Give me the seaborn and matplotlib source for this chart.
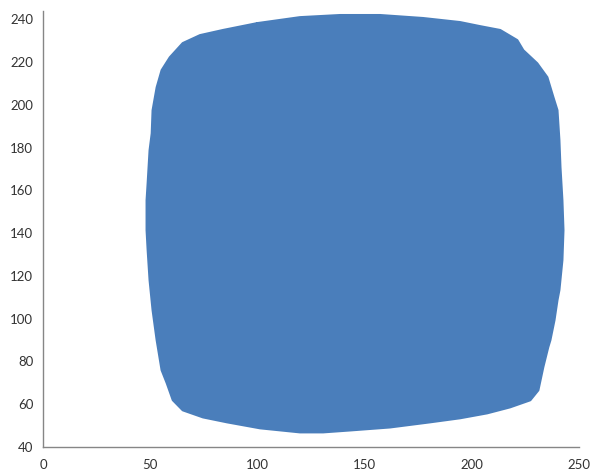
# Dense looping curve filling a rounded square - redrawn from outline
import numpy as np
import matplotlib.pyplot as plt
import pandas as pd
import seaborn as sns

# outline of the filled tangle, read clockwise from the top-left (data units)
outline_x = [99.9, 119.9, 138.6, 157.3, 177.3, 194.6, 203.9, 213.3, 221.2, 224.0,
             230.5, 235.2, 238.0, 239.9, 240.8, 241.3, 242.2, 242.7, 242.2, 240.8,
             239.9, 238.5, 236.6, 235.6, 233.3, 231.0, 227.3, 217.9, 207.2, 194.6,
             180.6, 161.9, 143.3, 130.7, 119.9, 101.3, 85.9, 74.7, 65.3, 60.7,
             57.9, 55.5, 53.2, 51.3, 49.9, 49.0, 48.5, 48.5, 49.0, 49.9,
             50.9, 51.3, 53.2, 55.5, 59.3, 65.3, 73.3, 84.0, 99.9]
outline_y = [238.1, 240.9, 241.9, 241.9, 240.5, 238.6, 236.7, 234.9, 230.2, 225.5,
             219.4, 212.9, 203.6, 197.5, 183.5, 170.8, 155.4, 141.4, 127.4, 113.4,
             108.7, 99.3, 90.0, 86.7, 77.4, 66.6, 62.0, 58.7, 55.9, 53.6,
             51.7, 49.3, 47.9, 47.0, 47.0, 48.9, 51.7, 54.0, 57.3, 62.0,
             69.9, 76.0, 90.0, 104.0, 118.0, 132.1, 141.4, 155.4, 163.4, 178.8,
             186.7, 197.5, 208.2, 216.2, 222.2, 228.8, 232.5, 234.9, 238.1]

x_ticks = [0, 50, 100, 150, 200, 250]
y_ticks = [40, 60, 80, 100, 120, 140, 160, 180, 200, 220, 240]

blue = "#4a7ebb"

sns.set_theme(style="white")
plt.rcParams['font.family'] = ['Lato', 'DejaVu Sans']

df = pd.DataFrame({"x": outline_x, "y": outline_y})

fig = plt.figure(figsize=(5.93, 4.73), dpi=100)
ax = fig.add_axes([0.0725, 0.055, 0.9035, 0.922])

ax.fill(df["x"], df["y"], color=blue, lw=0)
# estimator=None so repeated x values are not averaged
sns.lineplot(data=df, x="x", y="y", sort=False, estimator=None, color=blue, lw=2,
             solid_joinstyle="round", ax=ax)

ax.set_xlim(0, 250)
ax.set_ylim(40, 244)
ax.set_xticks(x_ticks)
ax.set_yticks(y_ticks)
ax.set_xlabel("")
ax.set_ylabel("")

for s in ["top", "right"]:
    ax.spines[s].set_visible(False)
for s in ["left", "bottom"]:
    ax.spines[s].set_color("#868686")
    ax.spines[s].set_linewidth(1)

ax.tick_params(axis="both", direction="out", length=4, width=1, color="#868686",
               labelsize=9.5, labelcolor="#333333", pad=3)
ax.tick_params(axis="x", pad=5)

fig.savefig("out.png", dpi=100)
